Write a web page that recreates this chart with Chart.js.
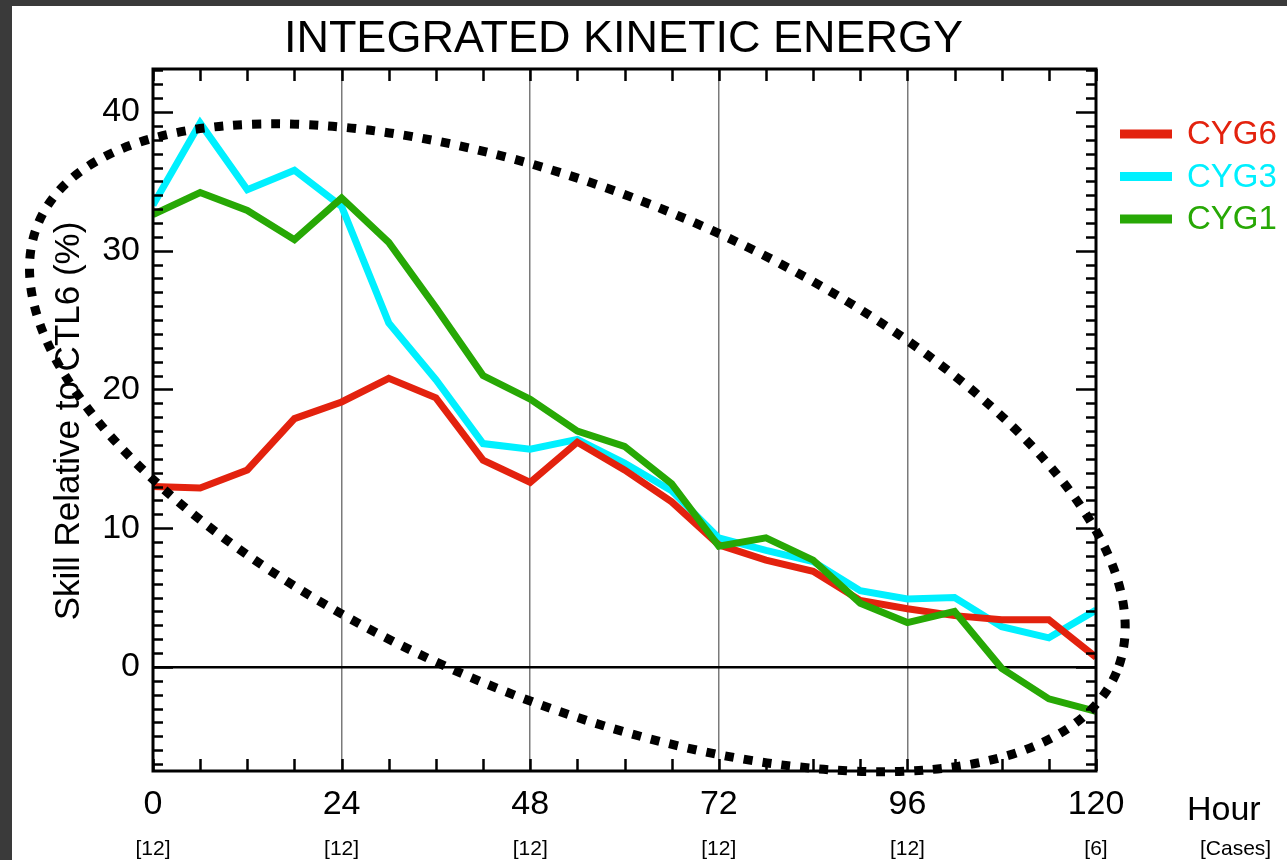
<!DOCTYPE html>
<html>
<head>
<meta charset="utf-8">
<script src="https://cdn.jsdelivr.net/npm/chart.js@4.4.1/dist/chart.umd.min.js"></script>
<style>
  html, body { margin: 0; padding: 0; background: #3a3a3a; width: 1287px; height: 860px; overflow: hidden; }
  #wrap { position: absolute; left: 12px; top: 6px; width: 1275px; height: 854px; background: #fff; }
</style>
</head>
<body>
<div id="wrap"><canvas id="chart" width="1275" height="854"></canvas></div>
<script>
// forecast hour, every 6 h
const hours = [0, 6, 12, 18, 24, 30, 36, 42, 48, 54, 60, 66, 72, 78, 84, 90, 96, 102, 108, 114, 120];
const cyg6 = [13.0, 12.9, 14.2, 17.9, 19.1, 20.8, 19.4, 14.9, 13.3, 16.2, 14.2, 11.9, 8.8, 7.7, 6.9, 4.8, 4.2, 3.7, 3.4, 3.4, 0.7];
const cyg3 = [33.3, 39.2, 34.4, 35.8, 33.2, 24.8, 20.7, 16.1, 15.7, 16.4, 14.7, 12.7, 9.3, 8.4, 7.6, 5.5, 4.9, 5.0, 2.9, 2.1, 4.1];
const cyg1 = [32.6, 34.2, 32.9, 30.8, 33.8, 30.6, 25.9, 21.0, 19.3, 17.0, 15.9, 13.2, 8.7, 9.3, 7.7, 4.6, 3.2, 4.0, -0.1, -2.3, -3.2];

const xTickHours = [0, 24, 48, 72, 96, 120];
const caseCounts = ['[12]', '[12]', '[12]', '[12]', '[12]', '[6]'];
const yTickValues = [0, 10, 20, 30, 40];

const RED = '#e3220e';
const CYAN = '#00f0ff';
const GREEN = '#27a805';
const FONT = '"Liberation Sans", Arial, Helvetica, sans-serif';

// dotted ellipse drawn over the plot (centre in data units)
const ellipseNote = { hour: 54.0, value: 15.8, rx: 584, ry: 253, angleDeg: 22.6 };

const toXY = (ys) => hours.map((h, i) => ({ x: h, y: ys[i] }));

const decor = {
  id: 'decor',
  afterDraw(chart) {
    const { ctx, chartArea: a, scales: { x, y } } = chart;
    ctx.save();

    // frame
    ctx.strokeStyle = '#000';
    ctx.lineWidth = 3;
    ctx.strokeRect(a.left, a.top, a.right - a.left, a.bottom - a.top);

    // minor / major ticks
    ctx.lineWidth = 2.5;
    ctx.beginPath();
    for (let v = Math.ceil(y.min); v <= Math.floor(y.max); v++) {
      const py = Math.round(y.getPixelForValue(v)) + 0.5;
      const len = v % 10 === 0 ? 20 : 10;
      ctx.moveTo(a.left, py); ctx.lineTo(a.left + len, py);
      ctx.moveTo(a.right, py); ctx.lineTo(a.right - len, py);
    }
    for (let h = 0; h <= 120; h += 6) {
      const px = Math.round(x.getPixelForValue(h)) + 0.5;
      ctx.moveTo(px, a.top); ctx.lineTo(px, a.top + 12);
      ctx.moveTo(px, a.bottom); ctx.lineTo(px, a.bottom - 12);
    }
    ctx.stroke();

    ctx.fillStyle = '#000';
    // title
    ctx.font = `45px ${FONT}`;
    ctx.textAlign = 'center';
    ctx.textBaseline = 'alphabetic';
    ctx.fillText('INTEGRATED KINETIC ENERGY', 611.5, 46);

    // y title
    ctx.save();
    ctx.translate(67, 415);
    ctx.rotate(-Math.PI / 2);
    ctx.font = `35px ${FONT}`;
    ctx.fillText('Skill Relative to CTL6 (%)', 0, 0);
    ctx.restore();

    // case counts under the hour labels
    ctx.font = `21px ${FONT}`;
    xTickHours.forEach((h, i) => {
      ctx.fillText(caseCounts[i], x.getPixelForValue(h), 849);
    });
    ctx.textAlign = 'left';
    ctx.fillText('[Cases]', 1188, 849);
    ctx.font = `34px ${FONT}`;
    ctx.fillText('Hour', 1175, 814);

    // legend
    ctx.font = `33px ${FONT}`;
    ctx.textBaseline = 'middle';
    chart.data.datasets.forEach((ds, i) => {
      const ly = 128 + i * 42.5;
      ctx.strokeStyle = ds.borderColor;
      ctx.lineWidth = 9;
      ctx.beginPath();
      ctx.moveTo(1108, ly); ctx.lineTo(1160, ly);
      ctx.stroke();
      ctx.fillStyle = ds.borderColor;
      ctx.fillText(ds.label, 1175, ly + 1);
    });

    // dotted ellipse annotation
    const cx = x.getPixelForValue(ellipseNote.hour);
    const cy = y.getPixelForValue(ellipseNote.value);
    ctx.strokeStyle = '#000';
    ctx.lineWidth = 9;
    ctx.setLineDash([9, 10]);
    ctx.beginPath();
    ctx.ellipse(cx, cy, ellipseNote.rx, ellipseNote.ry, ellipseNote.angleDeg * Math.PI / 180, 0, Math.PI * 2);
    ctx.stroke();

    ctx.restore();
  },
};

const lineStyle = { borderWidth: 7, pointRadius: 0, tension: 0, fill: false };

new Chart(document.getElementById('chart'), {
  type: 'line',
  data: {
    datasets: [
      { label: 'CYG6', data: toXY(cyg6), borderColor: RED, order: 1, ...lineStyle },
      { label: 'CYG3', data: toXY(cyg3), borderColor: CYAN, order: 2, ...lineStyle },
      { label: 'CYG1', data: toXY(cyg1), borderColor: GREEN, order: 0, ...lineStyle },
    ],
  },
  options: {
    responsive: false,
    animation: false,
    layout: { padding: { top: 63, right: 191, left: 0, bottom: 0 } },
    plugins: { legend: { display: false }, tooltip: { enabled: false } },
    scales: {
      x: {
        type: 'linear',
        min: 0,
        max: 120,
        afterBuildTicks: (s) => { s.ticks = xTickHours.map((v) => ({ value: v })); },
        afterFit: (s) => { s.height = 89; },
        ticks: { font: { size: 34, family: FONT }, color: '#000', padding: 13, maxRotation: 0, autoSkip: false },
        grid: {
          drawTicks: false,
          lineWidth: 1.5,
          color: (c) => (c.tick && c.tick.value > 0 && c.tick.value < 120 ? '#7a7a7a' : 'rgba(0,0,0,0)'),
        },
        border: { display: false },
      },
      y: {
        min: -7.5,
        max: 43.1,
        afterBuildTicks: (s) => { s.ticks = yTickValues.map((v) => ({ value: v })); },
        afterFit: (s) => { s.width = 141; },
        ticks: { font: { size: 34, family: FONT }, color: '#000', padding: 13 },
        grid: {
          drawTicks: false,
          lineWidth: 2.5,
          color: (c) => (c.tick && c.tick.value === 0 ? '#000' : 'rgba(0,0,0,0)'),
        },
        border: { display: false },
      },
    },
  },
  plugins: [decor],
});
</script>
</body>
</html>
